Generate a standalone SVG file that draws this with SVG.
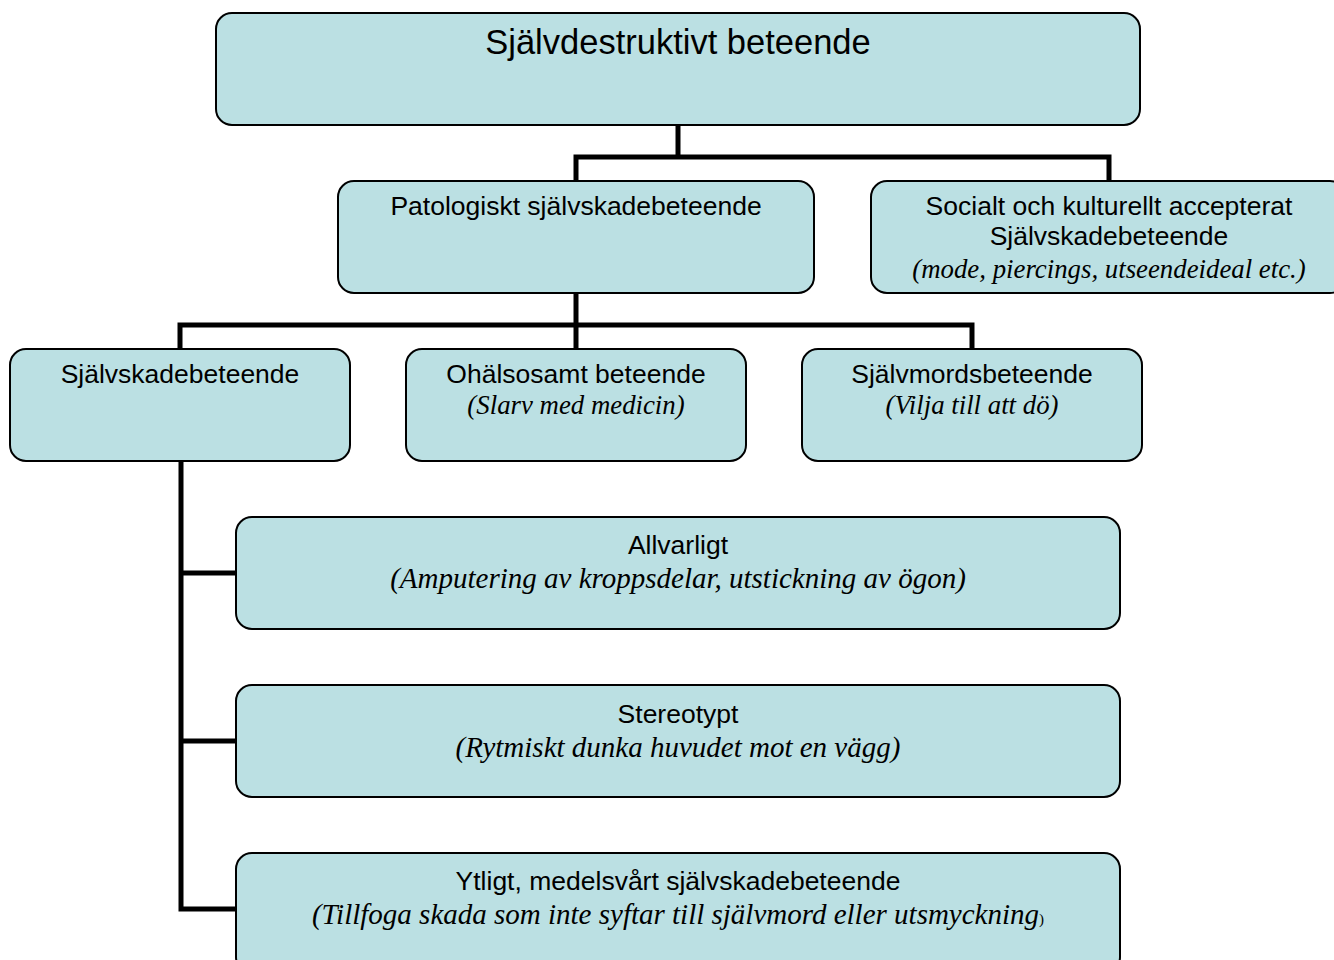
<svg xmlns="http://www.w3.org/2000/svg" width="1334" height="960" viewBox="0 0 1334 960">
<style>
.box{fill:#BBE0E3;stroke:#000;stroke-width:2}
.t{font-family:"Liberation Sans",Arial,sans-serif;font-size:26.5px;fill:#000;text-anchor:middle}
.i{font-family:"Liberation Serif","Times New Roman",serif;font-style:italic;font-size:29px;fill:#000;text-anchor:middle}
.s{font-size:26.8px}
.c{fill:none;stroke:#000;stroke-width:5}
</style>
<rect width="1334" height="960" fill="#fff"/>
<g id="connectors">
<polyline class="c" points="678,125 678,157"/>
<polyline class="c" points="576,181 576,157 1109,157 1109,181"/>
<polyline class="c" points="576,293 576,325"/>
<polyline class="c" points="180,349 180,325 972,325 972,349"/>
<polyline class="c" points="576,325 576,349"/>
<polyline class="c" points="181,461 181,909 236,909"/>
<polyline class="c" points="181,573 236,573"/>
<polyline class="c" points="181,741 236,741"/>
</g>
<g id="n-root">
<rect class="box" x="216" y="13" width="924" height="112" rx="16"/>
<text class="t" x="678" y="54" style="font-size:34.5px">Självdestruktivt beteende</text>
</g>
<g id="n-patologiskt">
<rect class="box" x="338" y="181" width="476" height="112" rx="16"/>
<text class="t" x="576" y="215">Patologiskt självskadebeteende</text>
</g>
<g id="n-socialt">
<rect class="box" x="871" y="181" width="475" height="112" rx="16"/>
<text class="t" x="1109" y="215">Socialt och kulturellt accepterat</text>
<text class="t" x="1109" y="245">Självskadebeteende</text>
<text class="i s" x="1109" y="278">(mode, piercings, utseendeideal etc.)</text>
</g>
<g id="n-sjalvskade">
<rect class="box" x="10" y="349" width="340" height="112" rx="16"/>
<text class="t" x="180" y="383">Självskadebeteende</text>
</g>
<g id="n-ohalsosamt">
<rect class="box" x="406" y="349" width="340" height="112" rx="16"/>
<text class="t" x="576" y="383">Ohälsosamt beteende</text>
<text class="i s" x="576" y="414">(Slarv med medicin)</text>
</g>
<g id="n-sjalvmord">
<rect class="box" x="802" y="349" width="340" height="112" rx="16"/>
<text class="t" x="972" y="383">Självmordsbeteende</text>
<text class="i s" x="972" y="414">(Vilja till att dö)</text>
</g>
<g id="n-allvarligt">
<rect class="box" x="236" y="517" width="884" height="112" rx="16"/>
<text class="t" x="678" y="554">Allvarligt</text>
<text class="i" x="678" y="588">(Amputering av kroppsdelar, utstickning av ögon)</text>
</g>
<g id="n-stereotypt">
<rect class="box" x="236" y="685" width="884" height="112" rx="16"/>
<text class="t" x="678" y="723">Stereotypt</text>
<text class="i" x="678" y="757">(Rytmiskt dunka huvudet mot en vägg)</text>
</g>
<g id="n-ytligt">
<rect class="box" x="236" y="853" width="884" height="120" rx="16"/>
<text class="t" x="678" y="890">Ytligt, medelsvårt självskadebeteende</text>
<text class="i" x="678" y="924">(Tillfoga skada som inte syftar till självmord eller utsmyckning<tspan style="font-style:normal;font-size:15px">)</tspan></text>
</g>
</svg>
